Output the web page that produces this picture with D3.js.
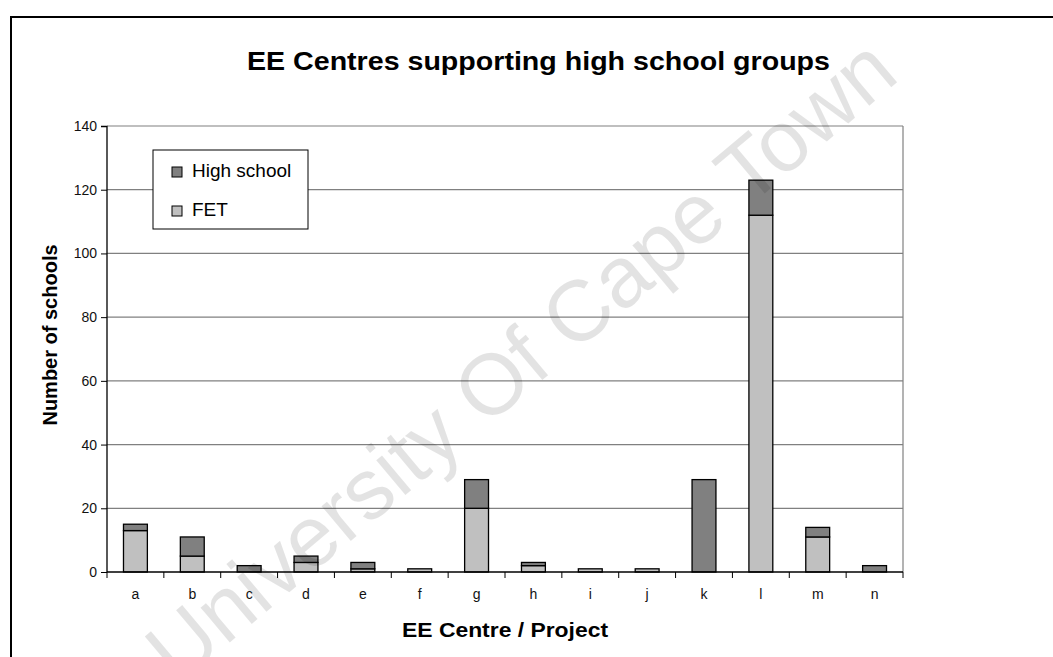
<!DOCTYPE html>
<meta charset="utf-8">
<head>
    <script src="https://d3js.org/d3.v7.min.js"></script>
    <style>
        body { margin: 0; background: white; }
        text { font-family: Arial, "Liberation Sans", sans-serif; }
    </style>
</head>
<body>
<div id="chart"></div>
<script>
    const centres = ["a", "b", "c", "d", "e", "f", "g", "h", "i", "j", "k", "l", "m", "n"];
    const fet = [13, 5, 0, 3, 1, 1, 20, 2, 1, 1, 0, 112, 11, 0];
    const highSchool = [2, 6, 2, 2, 2, 0, 9, 1, 0, 0, 29, 11, 3, 2];
    const yTicks = [0, 20, 40, 60, 80, 100, 120, 140];
    const seriesNames = ["FET", "High school"];
    const legendItems = [
        { label: "High school", color: "#808080" },
        { label: "FET", color: "#c0c0c0" }
    ];

    const width = 1053, height = 657;
    const margin = { left: 107, right: 150, top: 126, bottom: 85 };
    const innerW = width - margin.left - margin.right;
    const innerH = height - margin.top - margin.bottom;

    const svg = d3.select("#chart").append("svg")
        .attr("width", width)
        .attr("height", height);

    // outer frame
    svg.append("path")
        .attr("d", `M11,${height} V17 H${width}`)
        .attr("fill", "none")
        .attr("stroke", "black")
        .attr("stroke-width", 2);

    svg.append("text")
        .attr("x", 247)
        .attr("y", 70)
        .attr("textLength", 583)
        .attr("lengthAdjust", "spacingAndGlyphs")
        .style("font-size", "26px")
        .style("font-weight", "bold")
        .text("EE Centres supporting high school groups");

    const chart = svg.append("g")
        .attr("transform", `translate(${margin.left}, ${margin.top})`);

    const x = d3.scaleBand()
        .domain(centres)
        .range([0, innerW])
        .paddingInner(0.58)
        .paddingOuter(0.29);

    const y = d3.scaleLinear()
        .domain([0, 140])
        .range([innerH, 0]);

    // gridlines
    chart.append("g")
        .selectAll("line")
        .data(yTicks.filter(d => d > 0))
        .enter()
        .append("line")
        .attr("x1", 0)
        .attr("x2", innerW)
        .attr("y1", d => y(d))
        .attr("y2", d => y(d))
        .attr("stroke", "#808080")
        .attr("stroke-width", 1.2);

    // right side of plot area
    chart.append("line")
        .attr("x1", innerW).attr("x2", innerW)
        .attr("y1", 0).attr("y2", innerH)
        .attr("stroke", "#808080")
        .attr("stroke-width", 1.2);

    const data = centres.map((c, i) => ({ centre: c, FET: fet[i], "High school": highSchool[i] }));
    const stacked = d3.stack().keys(seriesNames)(data);
    const colors = { "FET": "#c0c0c0", "High school": "#808080" };

    chart.selectAll("g.series")
        .data(stacked)
        .enter()
        .append("g")
        .attr("class", "series")
        .attr("fill", d => colors[d.key])
        .selectAll("rect")
        .data(d => d.filter(p => p[1] - p[0] > 0))
        .enter()
        .append("rect")
        .attr("x", d => x(d.data.centre))
        .attr("width", x.bandwidth())
        .attr("y", d => y(d[1]))
        .attr("height", d => y(d[0]) - y(d[1]))
        .attr("stroke", "black")
        .attr("stroke-width", 1.3);

    // y axis
    const leftAxis = d3.axisLeft(y)
        .tickValues(yTicks)
        .tickSize(6)
        .tickPadding(4);

    const yAxisG = chart.append("g").call(leftAxis);
    yAxisG.select(".domain").attr("stroke", "black").attr("stroke-width", 1.3).attr("d", `M-6,0.5H0V${innerH}`);
    yAxisG.selectAll("text")
        .style("font-size", "14px")
        .style("font-family", "Arial, 'Liberation Sans', sans-serif")
        .attr("fill", "#111");

    // x axis with ticks between categories
    const xAxisG = chart.append("g").attr("transform", `translate(0, ${innerH})`);
    xAxisG.append("line")
        .attr("x1", 0).attr("x2", innerW)
        .attr("stroke", "black")
        .attr("stroke-width", 1.3);
    xAxisG.selectAll("line.tick")
        .data(d3.range(centres.length + 1))
        .enter()
        .append("line")
        .attr("class", "tick")
        .attr("x1", i => i * innerW / centres.length)
        .attr("x2", i => i * innerW / centres.length)
        .attr("y1", 0)
        .attr("y2", 6)
        .attr("stroke", "black");
    xAxisG.selectAll("text")
        .data(centres)
        .enter()
        .append("text")
        .attr("x", d => x(d) + x.bandwidth() / 2)
        .attr("y", 27)
        .attr("text-anchor", "middle")
        .attr("fill", "#111")
        .style("font-size", "14px")
        .text(d => d);

    svg.append("text")
        .attr("x", 402)
        .attr("y", 637)
        .attr("textLength", 206)
        .attr("lengthAdjust", "spacingAndGlyphs")
        .style("font-size", "20px")
        .style("font-weight", "bold")
        .text("EE Centre / Project");

    svg.append("text")
        .attr("transform", `translate(57, 335) rotate(-90)`)
        .attr("text-anchor", "middle")
        .style("font-size", "20px")
        .style("font-weight", "bold")
        .text("Number of schools");

    // legend
    const legend = svg.append("g")
        .attr("transform", "translate(153, 150)");
    legend.append("rect")
        .attr("width", 155)
        .attr("height", 79)
        .attr("fill", "white")
        .attr("stroke", "black")
        .attr("stroke-width", 1);
    legend.selectAll("rect.swatch")
        .data(legendItems)
        .enter()
        .append("rect")
        .attr("class", "swatch")
        .attr("x", 19)
        .attr("y", (d, i) => 17 + i * 39)
        .attr("width", 10)
        .attr("height", 10)
        .attr("fill", d => d.color)
        .attr("stroke", "black");
    legend.selectAll("text")
        .data(legendItems)
        .enter()
        .append("text")
        .attr("x", 39)
        .attr("y", (d, i) => 27 + i * 39)
        .style("font-size", "19px")
        .text(d => d.label);

    // watermark
    svg.append("text")
        .attr("transform", "translate(525, 365) rotate(-40)")
        .attr("text-anchor", "middle")
        .attr("dominant-baseline", "middle")
        .style("font-size", "86px")
        .attr("fill", "black")
        .attr("fill-opacity", 0.11)
        .text("University Of Cape Town");
</script>
</body>
